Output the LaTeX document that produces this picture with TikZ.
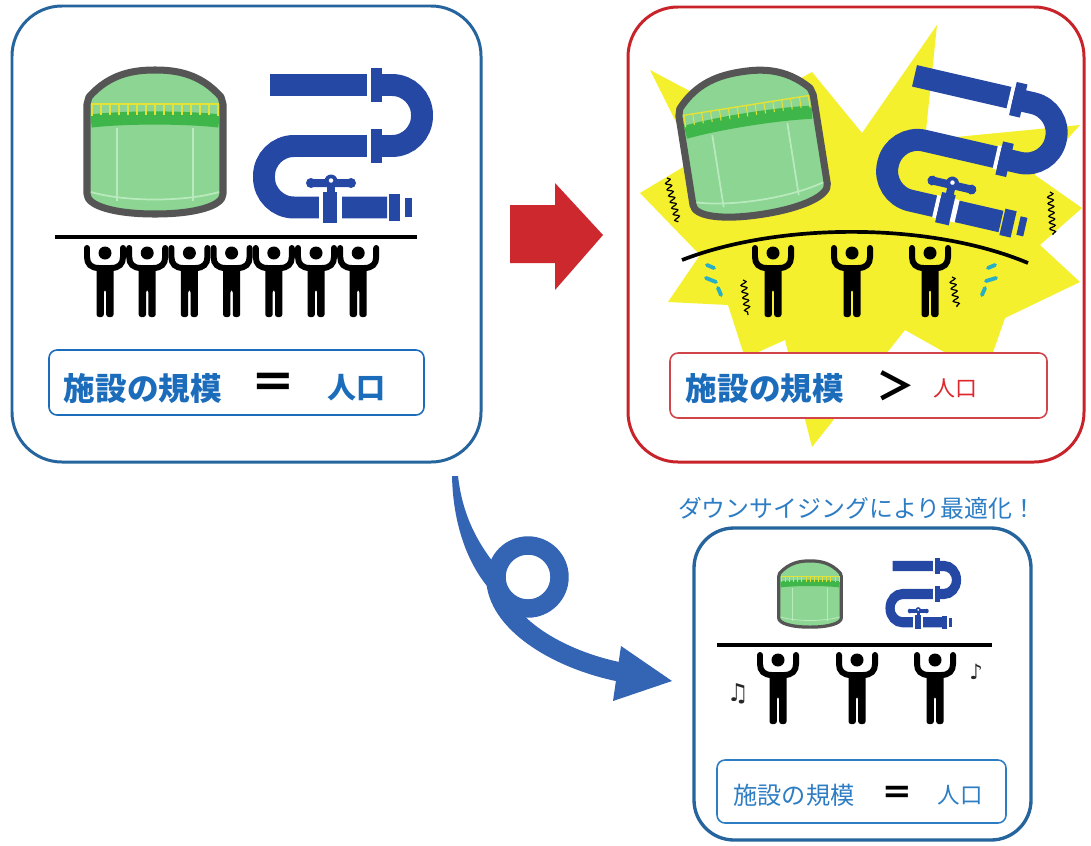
\documentclass[tikz,border=0pt]{standalone}
\usepackage{fontspec}
\newfontfamily\jp{Noto Sans CJK JP}
\newfontfamily\symfont{DejaVu Sans}
\usetikzlibrary{decorations.pathmorphing}

\definecolor{boxblue}{RGB}{38,100,158}
\definecolor{boxred}{RGB}{200,35,42}
\definecolor{txtblue}{RGB}{28,108,188}
\definecolor{txtblue2}{RGB}{45,125,196}
\definecolor{popred}{RGB}{222,40,46}
\definecolor{pipeblue}{RGB}{38,72,165}
\definecolor{tankgreen}{RGB}{140,213,146}
\definecolor{banddark}{RGB}{62,182,74}
\definecolor{tankline}{RGB}{185,234,189}
\definecolor{tankgray}{RGB}{85,85,85}
\definecolor{rail}{RGB}{228,226,52}
\definecolor{burst}{RGB}{245,240,45}
\definecolor{arrowred}{RGB}{205,40,45}
\definecolor{arrowblue}{RGB}{52,101,180}
\definecolor{sweat}{RGB}{40,175,200}

\tikzset{
  panel/.style={line width=1.7pt, rounded corners=1cm},
  smallpanel/.style={line width=1.9pt, rounded corners=0.8cm},
  labelbox/.style={line width=0.9pt, rounded corners=0.16cm, fill=white},
  beam/.style={line width=2.1pt, black},
  pipestroke/.style={pipeblue, line width=12.5pt, rounded corners=0.6cm},
  limb/.style={line width=3.4pt, line cap=round},
  shiver/.style={black, line width=0.7pt, decorate,
    decoration={snake, amplitude=1.6pt, segment length=3.6pt}},
  drop/.style={sweat, line width=2.2pt, line cap=round},
  txt/.style={inner sep=0pt, anchor=center}
}

% storage tank, local origin at its centre
\newcommand{\tankicon}{%
  \filldraw[fill=tankgreen, draw=tankgray, line width=4pt, line join=round]
    (-68,-38) -- (-66,-45) .. controls (-45,-69) and (-20,-72) .. (0,-72)
    .. controls (20,-72) and (45,-69) .. (66,-45) -- (68,-38) -- (68,52)
    .. controls (68,64) and (40,72) .. (0,72)
    .. controls (-40,72) and (-68,64) .. (-68,52) -- cycle;
  \draw[tankline, line width=1pt] (-38,-14) -- (-38,59) (38,-14) -- (38,59);
  \draw[tankline, line width=1pt] (-64,50) .. controls (-30,60) and (30,60) .. (64,50);
  \draw[banddark, line width=7.5pt] (-64,-21) .. controls (-30,-25) and (30,-25) .. (64,-21);
  \draw[rail, line width=0.8pt] (-63,-26) -- (-63,-38) -- (63,-38) -- (63,-26);
  \foreach \k in {-54,-45,...,54} \draw[rail, line width=0.6pt] (\k,-38) -- (\k,-27);
}

% pipework with valve, local origin at the centre of the middle run
\newcommand{\pipeicon}{%
  \draw[pipestroke] (-70,-61) -- (82,-61) -- (82,0) -- (-76,0) -- (-76,61.5) -- (47,61.5);
  \fill[white] (27,-73) rectangle (31,-49);
  \fill[pipeblue] (31,-78) rectangle (42,-44);
  \fill[white] (27,-12) rectangle (31,12);
  \fill[pipeblue] (31,-17) rectangle (42,17);
  \fill[white] (-21,50) rectangle (-17,73);
  \fill[pipeblue] (-17,46) rectangle (-3,77);
  \fill[white] (-3,50) rectangle (2,73);
  \fill[pipeblue] (48.5,48) rectangle (60,75);
  \fill[pipeblue] (65,52) rectangle (72,71);
  \fill[pipeblue] (-13,40) rectangle (-5,47);
  \fill[pipeblue, rounded corners=0.08cm] (-33,33) rectangle (15,41);
  \fill[pipeblue] (-29,37) circle[radius=0.1cm] (11,37) circle[radius=0.1cm]
                  (-9,35) circle[radius=0.13cm];
  \fill[white] (-9,34.5) circle[radius=0.045cm];
}

% person holding something up, local origin at the head
\newcommand{\personicon}{%
  \fill (0,0) circle[radius=0.13cm];
  \draw[limb] (-18,-5) -- (-18,4) .. controls (-18,11) and (-14,15) .. (-6,15);
  \draw[limb] (18,-5) -- (18,4) .. controls (18,11) and (14,15) .. (6,15);
  \fill[rounded corners=0.05cm] (-8.5,12) -- (8.5,12) -- (8.5,64) -- (1.2,64)
    -- (1.2,37) -- (-1.2,37) -- (-1.2,64) -- (-8.5,64) -- cycle;
}

\begin{document}
\begin{tikzpicture}[x=0.02cm, y=-0.02cm]
\useasboundingbox (0,0) rectangle (1091,845);
\fill[white] (0,0) rectangle (1091,845);

% ---------- left panel: balanced ----------
\draw[panel, boxblue] (12,6) rectangle (481,462);
\begin{scope}[transform canvas={shift={(155,142)}}]\tankicon\end{scope}
\begin{scope}[transform canvas={shift={(340,146)}}]\pipeicon\end{scope}
\coordinate (beamAl) at (55,237);
\coordinate (beamAr) at (417,237);
\draw[beam] (beamAl) -- (beamAr);
\foreach \i in {0,...,6}{
  \begin{scope}[shift={({105+42.2*\i},253)}]\personicon\end{scope}
}
\draw[labelbox, draw=txtblue] (49,350) rectangle (424,415);
\node[txt, font=\jp\bfseries\fontsize{18}{18}\selectfont, text=txtblue] (scaleA) at (143,388) {施設の規模};
\node[txt, font=\jp\bfseries\fontsize{26}{26}\selectfont] (eqA) at (273,386) {＝};
\node[txt, font=\jp\bfseries\fontsize{16.5}{16.5}\selectfont, text=txtblue] (popA) at (356,388) {人口};

% ---------- arrow to the overloaded state ----------
\fill[arrowred] (510,205) -- (555,205) -- (555,183) -- (603,235) -- (555,290)
  -- (555,263) -- (510,263) -- cycle;

% ---------- right panel: overloaded ----------
\draw[panel, boxred] (628,7) rectangle (1084,462);
\fill[burst] (650,70) -- (735,115) -- (812,72) -- (862,133) -- (937,25) -- (925,140)
  -- (1080,125) -- (1035,175) -- (1082,208) -- (1040,245) -- (1080,282) -- (1005,318)
  -- (985,375) -- (905,330) -- (812,447) -- (785,340) -- (745,358) -- (728,305)
  -- (668,302) -- (700,255) -- (640,193) -- (695,160) -- cycle;
\begin{scope}[transform canvas={shift={(752,143)}, rotate=9}]\tankicon\end{scope}
\begin{scope}[transform canvas={shift={(969,151)}, rotate=-13}]\pipeicon\end{scope}
\coordinate (beamBl) at (682,260);
\coordinate (beamBr) at (1028,263);
\draw[beam] (beamBl) .. controls (780,222) and (930,222) .. (beamBr);
\foreach \px in {773,852,930}{
  \begin{scope}[shift={(\px,253)}]\personicon\end{scope}
}
\draw[shiver] (667,178) -- (678,222);
\draw[shiver] (1050,192) -- (1053,235);
\draw[shiver] (743,280) -- (748,315);
\draw[shiver] (952,277) -- (957,307);
\draw[drop] (707,265) -- (714,268);
\draw[drop] (706,278) -- (716,282);
\draw[drop] (718,288) -- (721,295);
\draw[drop] (995,265) -- (988,268);
\draw[drop] (996,278) -- (986,281);
\draw[drop] (985,288) -- (982,295);
\draw[labelbox, draw=boxred!85!white] (670,353) rectangle (1047,418);
\node[txt, font=\jp\bfseries\fontsize{18}{18}\selectfont, text=txtblue] (scaleB) at (765,388) {施設の規模};
\node[txt, font=\jp\bfseries\fontsize{22}{22}\selectfont] (gtB) at (896,386) {＞};
\node[txt, font=\jp\fontsize{12.5}{12.5}\selectfont, text=popred] (popB) at (955,388) {人口};

% ---------- looping arrow to the downsized state ----------
\fill[arrowblue] (452,476) .. controls (453,522) and (466,560) .. (487,586)
  -- (501,572) .. controls (481,548) and (463,520) .. (458,476) -- cycle;
\draw[arrowblue, line width=10.5pt] (528,577) circle[radius=0.63cm];
\draw[arrowblue, line width=11pt] (496,582) .. controls (500,625) and (560,660) .. (620,672);
\fill[arrowblue] (621,646) -- (672,681) -- (613,701) -- cycle;

% ---------- bottom panel: downsized ----------
\node[txt, font=\jp\fontsize{13.6}{14}\selectfont, text=txtblue2] (title) at (857,508) {ダウンサイジングにより最適化！};
\draw[smallpanel, boxblue] (694,528) rectangle (1031,840);
\begin{scope}[transform canvas={shift={(810,594)}, scale=0.46}]\tankicon\end{scope}
\begin{scope}[transform canvas={shift={(922,594)}, xscale=0.42, yscale=0.46}]\pipeicon\end{scope}
\coordinate (beamCl) at (717,645);
\coordinate (beamCr) at (992,645);
\draw[beam, line width=1.8pt] (beamCl) -- (beamCr);
\foreach \px in {778,857,935}{
  \begin{scope}[shift={(\px,660)}]\personicon\end{scope}
}
\node[txt, font=\symfont\fontsize{14}{14}\selectfont, text=black!85] (noteL) at (738,694) {♫};
\node[txt, font=\symfont\fontsize{12}{12}\selectfont, text=black!85] (noteR) at (976,672) {♪};
\draw[labelbox, draw=txtblue2] (717,760) rectangle (1006,823);
\node[txt, font=\jp\fontsize{13.8}{14}\selectfont, text=txtblue2] (scaleC) at (794,795) {施設の規模};
\node[txt, font=\jp\bfseries\fontsize{18}{18}\selectfont] (eqC) at (897,795) {＝};
\node[txt, font=\jp\fontsize{12.8}{13}\selectfont, text=txtblue2] (popC) at (960,795) {人口};
\end{tikzpicture}
\end{document}
